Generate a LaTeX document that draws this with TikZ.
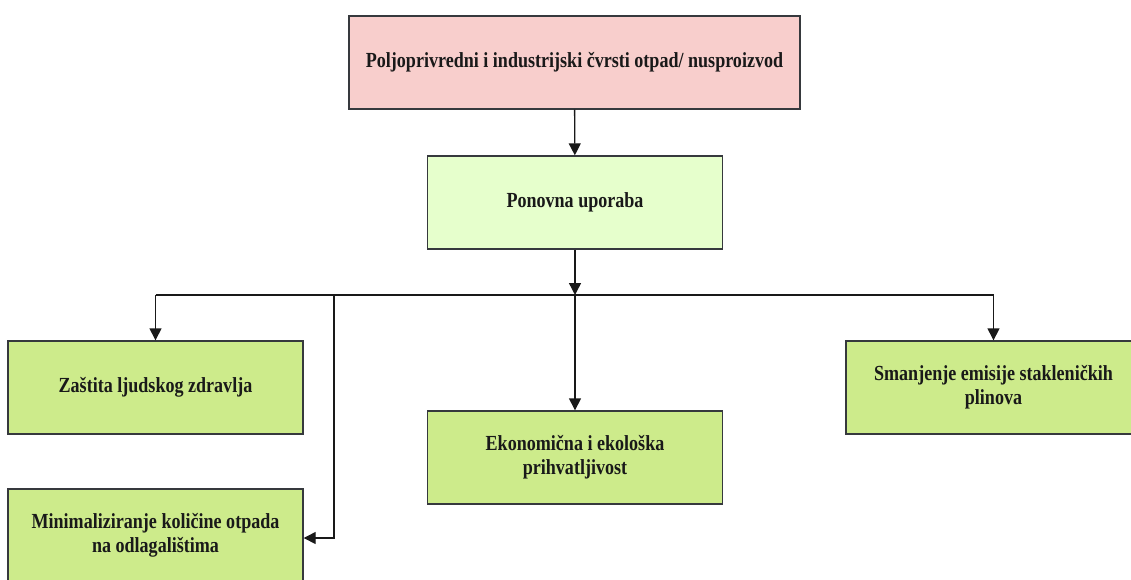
\documentclass[tikz,border=0pt]{standalone}
\usepackage{fontspec}
\setmainfont{Liberation Serif}[FakeStretch=0.84]
\usetikzlibrary{arrows.meta}
\definecolor{pinkfill}{HTML}{F8CECC}
\definecolor{lightgreen}{HTML}{E6FFCC}
\definecolor{midgreen}{HTML}{CDEB8B}
\definecolor{edgegray}{HTML}{36393D}
\tikzset{
  box/.style={draw=edgegray, line width=1.4pt, minimum width=295pt, minimum height=93pt,
    inner sep=0pt, align=center, font=\fontsize{21.5}{24}\selectfont\bfseries, text=black!90},
  wide/.style={box, minimum width=451pt},
  conn/.style={draw=black!90, line width=1.4pt},
  arr/.style={conn, -{Triangle[length=12pt,width=12pt]}}
}
\begin{document}
\begin{tikzpicture}[x=1pt,y=-1pt]
\useasboundingbox[fill=white] (0,0) rectangle (1131,579);
\node[wide, fill=pinkfill] (top) at (574.5,62.5) {Poljoprivredni i industrijski čvrsti otpad/ nusproizvod};
\node[box, fill=lightgreen] (reuse) at (575,202.5) {Ponovna uporaba};
\node[box, fill=midgreen] (health) at (155.5,387.5) {Zaštita ljudskog zdravlja};
\node[box, fill=midgreen] (econ) at (575,457.5) {Ekonomična i ekološka\\prihvatljivost};
\node[box, fill=midgreen] (ghg) at (993.5,387.5) {Smanjenje emisije stakleničkih\\plinova};
\node[box, fill=midgreen] (landfill) at (155.5,535.5) {Minimaliziranje količine otpada\\na odlagalištima};
\coordinate (bus) at (575,295);
\coordinate (busL) at (155.5,295);
\coordinate (busR) at (993.5,295);
\coordinate (drop) at (334,295);
\draw[arr] (top) -- (reuse);
\draw[arr] (reuse) -- (bus);
\draw[conn] (busL) -- (busR);
\draw[arr] (busL) -- (health);
\draw[arr] (busR) -- (ghg);
\draw[arr] (bus) -- (econ);
\draw[arr] (drop) |- (landfill.east |- 0,538);
\end{tikzpicture}
\end{document}
